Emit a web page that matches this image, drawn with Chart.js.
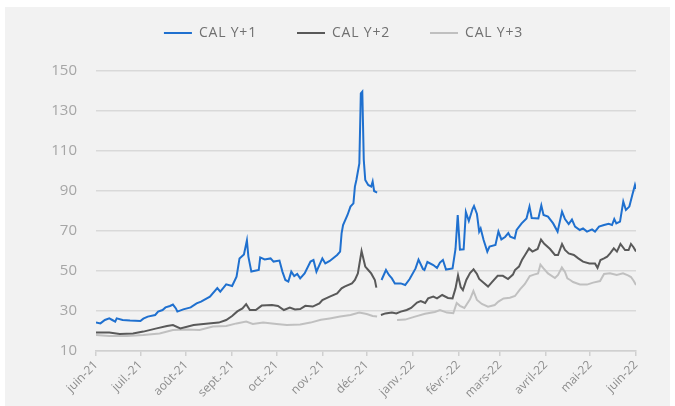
<!DOCTYPE html>
<html>
<head>
<meta charset="utf-8">
<script src="https://cdn.jsdelivr.net/npm/chart.js@4.4.1/dist/chart.umd.min.js"></script>
<style>
  html, body { margin: 0; padding: 0; background: #ffffff; }
  #frame { position: absolute; left: 5px; top: 7px; width: 665px; height: 399px; background: #f2f2f2; }
  #chart { position: absolute; left: 0; top: 0; }
</style>
</head>
<body>
<div id="frame"></div>
<canvas id="chart" width="675" height="406"></canvas>
<script>
// Month ticks (days since 1 June 2021)
const monthDays = [0, 30, 61, 92, 122, 153, 183, 214, 245, 273, 304, 334, 365];
const monthLabels = ['juin-21', 'juil.-21', 'août-21', 'sept.-21', 'oct.-21', 'nov.-21', 'déc.-21',
  'janv.-22', 'févr.-22', 'mars-22', 'avril-22', 'mai-22', 'juin-22'];
const yTicks = [10, 30, 50, 70, 90, 110, 130, 150];

// CAL Y+1
const y1Days = [0, 3, 6, 9, 11, 13, 14, 18, 23, 30, 32, 35, 40, 42, 45, 47, 50, 52, 54, 55, 59, 64, 68, 71,
  77, 82, 84, 88, 92, 95, 97, 100, 102, 103, 105, 110, 111, 114, 118, 120, 124, 126, 128, 130, 132, 134,
  136, 138, 141, 145, 147, 149, 153, 155, 158, 163, 165, 166, 167, 170, 172, 174, 175, 176, 178, 179, 180,
  181, 182, 184, 186, 187, 188, 190, 191, 193, 196, 198, 200, 202, 206, 209, 212, 216, 218, 221, 222, 224,
  228, 230.5, 232.5, 234.5, 236.6, 241, 243, 244.5, 246, 248.5, 250, 252, 254.5, 255.5, 257.5, 259, 260,
  262, 264.5, 266, 270, 272, 274, 276.5, 278.7, 280, 283, 284.3, 287.7, 291, 293, 294.5, 299, 301, 302.5,
  305.5, 309, 312, 315, 317, 319.5, 321.7, 323.8, 327, 329.2, 331.9, 335.3, 337.3, 340, 343.4, 346.5,
  348.8, 350.3, 351.7, 354.2, 356.4, 358.2, 360.5, 362.5, 364.3, 365];
const y1Values = [24.2, 23.8, 25.5, 26.3, 25.5, 24.7, 26.3, 25.5, 25.2, 25, 26.2, 27.2, 28, 29.7, 30.5, 31.8,
  32.5, 33.2, 31.3, 29.7, 30.8, 31.8, 33.8, 34.7, 37.2, 41.5, 39.7, 43.3, 42.5, 47.2, 56.3, 58.3, 65.3, 57.2,
  49.7, 50.5, 56.8, 55.8, 56.3, 54.7, 55.2, 49.7, 45.5, 44.7, 49.7, 47.5, 48.5, 46.3, 48.8, 54.7, 55.5, 49.7,
  56.3, 53.8, 55, 58, 59.7, 68.8, 73, 78, 82.2, 83.8, 92.2, 95.5, 103.8, 138.8, 139.7, 105.5, 95.5, 93, 92.2,
  94.7, 90, 89.2, null, 45.5, 50.5, 48, 46.3, 43.8, 43.8, 43, 46, 51.3, 55.7, 51, 50.5, 54.5, 53, 51.5, 54.2,
  55.5, 50.7, 51.3, 61, 78, 60.7, 60.8, 79.5, 75, 81, 82.5, 78.5, 69.7, 71.3, 65.5, 59.7, 62.2, 63, 69.7,
  65.8, 67, 69, 67.2, 66.3, 70.5, 73.8, 76.3, 82.2, 76.5, 76.3, 82.8, 78, 77.2, 73.8, 69.7, 79.7, 76, 73.5,
  75.7, 72.2, 70.5, 71.3, 69.7, 70.8, 69.7, 72.2, 73, 73.6, 73, 76, 73.8, 74.7, 84.7, 80.5, 82.2, 88, 93, 91];

// CAL Y+2
const y2Days = [0, 9, 16, 25, 32, 41, 48, 52, 57, 66, 76, 83, 88, 92, 95.5, 99, 101.5, 104, 108, 112, 119,
  123, 127, 131, 134.5, 138, 141.5, 146.5, 151, 153, 158, 163, 166, 168, 173, 175, 177, 179.5, 182, 184,
  186, 188.5, 189.5, 191, 192.6, 195.6, 200, 203, 206, 210, 213, 217, 219.5, 222.5, 224.5, 228, 230.5, 234,
  237.9, 241, 243, 244.7, 246.5, 248, 250.3, 252.8, 255.2, 257.5, 259, 262.2, 265, 267.5, 271.5, 275, 278.5,
  281.8, 283.2, 285.9, 287.9, 290, 292.7, 295, 298.5, 300.8, 303, 306.9, 310.2, 312.3, 315, 317, 319.5, 323,
  326, 329.2, 333.5, 337.3, 339, 341, 343.4, 345.5, 347.5, 350, 352.1, 354.5, 357.6, 360, 361.6, 363.2, 365];
const y2Values = [19.2, 19.2, 18.5, 18.8, 19.7, 21.3, 22.5, 23, 21.3, 23, 23.8, 24.2, 25.5, 27.5, 29.8, 31.3,
  33.4, 30.5, 30.5, 32.7, 33, 32.5, 30.5, 31.7, 30.8, 31, 32.6, 32.2, 33.8, 35.5, 37.2, 38.8, 41.3, 42.2,
  43.8, 45.5, 48.8, 60, 52.2, 50.5, 48.8, 45.5, 41.7, null, 28, 28.8, 29.3, 28.8, 29.7, 30.5, 31.5, 34.2, 35,
  34, 36.3, 37.2, 36.3, 38, 36.5, 36.3, 41.3, 47.8, 42, 40.5, 45.5, 49, 50.8, 48.5, 46, 44, 42.2, 44.3, 47.6,
  47.6, 46, 48.2, 50.5, 52.2, 55.5, 58, 61.3, 59.7, 61, 65.7, 63.6, 61, 58, 58, 63.5, 60.5, 58.8, 58, 56.3,
  54.7, 53.8, 53.8, 51.6, 55.5, 56.3, 57.2, 58.8, 61.3, 59.7, 63.5, 60.5, 60.5, 63.5, 62, 59.7];

// CAL Y+3
const y3Days = [0, 9, 21, 32, 43, 52, 61, 70, 79, 88, 95, 101.5, 106, 113, 122, 129, 138, 145, 152, 158, 165,
  172, 178, 183, 187, 190, 195, 203.5, 209, 215.6, 222.4, 229, 232.5, 237.2, 241.5, 243.8, 246, 249, 252.8,
  255.1, 257.5, 260.8, 265, 269.5, 272, 275.5, 279.8, 283.2, 286.6, 289.9, 293.2, 296, 298.8, 300.4, 302.5,
  305.5, 310.2, 312.3, 314.9, 317, 318.6, 320.5, 322.5, 327.1, 331.9, 336, 340.7, 343.4, 347.4, 352, 356.2,
  359.6, 361.6, 363.5, 365];
const y3Values = [18, 17.5, 17.5, 18, 18.8, 20.5, 20.8, 20.5, 22.2, 22.5, 23.8, 24.7, 23.5, 24.2, 23.5, 23,
  23.3, 24.2, 25.6, 26.3, 27.2, 28, 29.2, 28.5, 27.5, 27.2, null, 25.5, 25.7, 27.2, 28.6, 29.5, 30.5, 29.2,
  28.9, 34, 32.6, 31.5, 35.8, 40, 35.5, 33.5, 32.2, 33, 34.7, 36.3, 36.6, 37.5, 40.8, 43.5, 47.5, 48.2, 48.8,
  53.2, 51.3, 48.8, 46.5, 48, 51.8, 49.5, 46.3, 45.5, 44.5, 43.3, 43.2, 44.2, 45, 48.5, 48.9, 48, 48.8, 47.8,
  47, 45, 43];

function toPoints(days, values) {
  return days.map((d, i) => ({ x: d, y: values[i] }));
}

// Legend: a bit of letter spacing, and extra room under it
const legendTweaks = {
  id: 'legendTweaks',
  beforeInit(chart) {
    const legend = chart.legend;
    const origFit = legend.fit;
    const origDraw = legend.draw;
    legend.fit = function fit() {
      this.ctx.save();
      this.ctx.letterSpacing = '0.8px';
      origFit.call(this);
      this.ctx.restore();
      this.height += 21;
    };
    legend.draw = function draw() {
      this.ctx.save();
      this.ctx.letterSpacing = '0.8px';
      origDraw.call(this);
      this.ctx.restore();
    };
  },
};

function makeSeries(label, days, values, color) {
  return {
    label: label,
    data: toPoints(days, values),
    borderColor: color,
    backgroundColor: color,
    borderWidth: 2,
    pointRadius: 0,
    tension: 0,
    spanGaps: false,
  };
}

new Chart(document.getElementById('chart'), {
  type: 'line',
  data: {
    datasets: [
      makeSeries('CAL Y+1', y1Days, y1Values, '#1f70cf'),
      makeSeries('CAL Y+2', y2Days, y2Values, '#595959'),
      makeSeries('CAL Y+3', y3Days, y3Values, '#c0c0c0'),
    ],
  },
  options: {
    responsive: false,
    animation: false,
    layout: { padding: { top: -14, left: 51, right: 39, bottom: 0 } },
    plugins: {
      tooltip: { enabled: false },
      legend: {
        position: 'top',
        labels: {
          boxWidth: 28,
          boxHeight: 2,
          padding: 40,
          color: '#707070',
          font: { family: 'Open Sans', size: 14 },
          generateLabels: (chart) =>
            Chart.defaults.plugins.legend.labels.generateLabels(chart).map((l) => ({
              ...l,
              lineWidth: 0,
              fillStyle: l.strokeStyle,
            })),
        },
      },
    },
    scales: {
      x: {
        type: 'linear',
        min: 0,
        max: 365,
        afterBuildTicks: (scale) => {
          scale.ticks = monthDays.map((v) => ({ value: v }));
        },
        afterFit: (scale) => {
          scale.height = 55;
        },
        ticks: {
          autoSkip: false,
          minRotation: 45,
          maxRotation: 45,
          padding: 2,
          color: '#8c8c8c',
          font: { family: 'Open Sans', size: 12 },
          callback: (value, index) => monthLabels[index],
        },
        grid: {
          display: true,
          drawOnChartArea: false,
          drawTicks: true,
          tickLength: 5,
          color: '#d0d0d0',
          lineWidth: 1.5,
        },
        border: { display: true, color: '#d0d0d0', width: 1.5 },
      },
      y: {
        min: 10,
        max: 150,
        afterBuildTicks: (scale) => {
          scale.ticks = yTicks.map((v) => ({ value: v }));
        },
        afterFit: (scale) => {
          scale.width = 45;
        },
        ticks: {
          padding: 19,
          color: '#a6a6a6',
          font: { family: 'Open Sans', size: 15 },
        },
        grid: {
          drawTicks: false,
          color: '#d9d9d9',
          lineWidth: 1.5,
        },
        border: { display: false },
      },
    },
  },
  plugins: [legendTweaks],
});
</script>
</body>
</html>
